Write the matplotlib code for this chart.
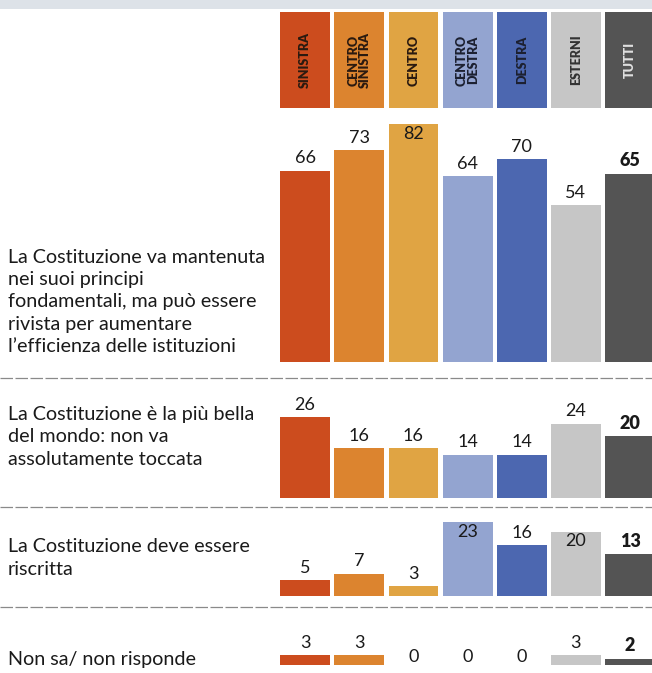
import matplotlib
matplotlib.use("Agg")
import matplotlib.pyplot as plt

# Data
parties = ['SINISTRA', 'CENTRO\nSINISTRA', 'CENTRO', 'CENTRO\nDESTRA',
           'DESTRA', 'ESTERNI', 'TUTTI']
questions = [
    'La Costituzione va mantenuta\nnei suoi principi\nfondamentali, ma può essere\n'
    'rivista per aumentare\nl’efficienza delle istituzioni',
    'La Costituzione è la più bella\ndel mondo: non va\nassolutamente toccata',
    'La Costituzione deve essere\nriscritta',
    'Non sa/ non risponde',
]
mantenuta = [66, 73, 82, 64, 70, 54, 65]
bella = [26, 16, 16, 14, 14, 24, 20]
riscritta = [5, 7, 3, 23, 16, 20, 13]
non_sa = [3, 3, 0, 0, 0, 3, 2]
series = [mantenuta, bella, riscritta, non_sa]

colors = ['#cc4c1e', '#dc842f', '#e0a443', '#93a4d0', '#4c67b0', '#c6c6c6', '#545454']
header_text = ['#2a1a10', '#2a1a10', '#2a1a10', '#1c2030', '#1c2030', '#333333', '#e0e0e0']

plt.rcParams['font.family'] = ['Lato', 'DejaVu Sans']

W, H = 652, 673
fig = plt.figure(figsize=(W / 100, H / 100), dpi=100)
fig.patch.set_facecolor('white')

x = list(range(len(parties)))
left_px, right_px, pitch = 278, 652, 54.17
xmax = -0.5 + (right_px - left_px) / pitch


def px_axes(top, bottom):
    return fig.add_axes([left_px / W, 1 - bottom / H, (right_px - left_px) / W, (bottom - top) / H])


# faint scanned strip at the very top
band = fig.add_axes([0, 1 - 9 / H, 1, 9 / H])
band.set_facecolor('#dde2e8')
band.set_xticks([]); band.set_yticks([])
for s in band.spines.values():
    s.set_visible(False)

# Header boxes
hax = px_axes(12, 108)
hax.bar(x, [1] * len(x), width=0.92, color=colors)
hax.set_xlim(-0.5, xmax)
hax.set_ylim(0, 1)
for i, name in enumerate(parties):
    hax.text(i, 0.5, name, rotation=90, ha='center', va='center', fontsize=9,
             fontweight='heavy', color=header_text[i], linespacing=0.9)
hax.axis('off')

# Panels: baseline px, top px, px per unit, cap for inside labels, text centre px
panels = [
    (362, 110, 2.9, 80, 302),
    (498, 385, 3.1, 99, 437),
    (596, 512, 3.2, 18, 558),
    (665, 615, 3.2, 99, 660),
]
for (base, top, scale, cap, ty), vals, q in zip(panels, series, questions):
    ax = px_axes(top, base)
    ax.bar(x, vals, width=0.92, color=colors)
    ax.set_xlim(-0.5, xmax)
    ax.set_ylim(0, (base - top) / scale)
    ax.axis('off')
    for i, v in enumerate(vals):
        weight = 'heavy' if i == len(vals) - 1 else 'normal'
        if v > cap:
            ax.annotate(str(v), (i, v), xytext=(0, -1), textcoords='offset points',
                        ha='center', va='top', fontsize=13, fontweight=weight,
                        color='#1a1a1a', annotation_clip=False)
        else:
            off = 3 if v > 0 else 0
            ax.annotate(str(v), (i, v), xytext=(0, off), textcoords='offset points',
                        ha='center', va='bottom', fontsize=13, fontweight=weight,
                        color='#1a1a1a', annotation_clip=False)
    fig.text(8 / W, 1 - ty / H, q, ha='left', va='center', fontsize=14.2,
             color='#1a1a1a', linespacing=1.38)

# separator lines
for y in [378, 507, 607]:
    fig.add_artist(plt.Line2D([0, 1], [1 - y / H, 1 - y / H], transform=fig.transFigure,
                              color='#8a8a8a', lw=0.9, linestyle=(0, (10, 2))))

fig.savefig('out.png', dpi=100)
